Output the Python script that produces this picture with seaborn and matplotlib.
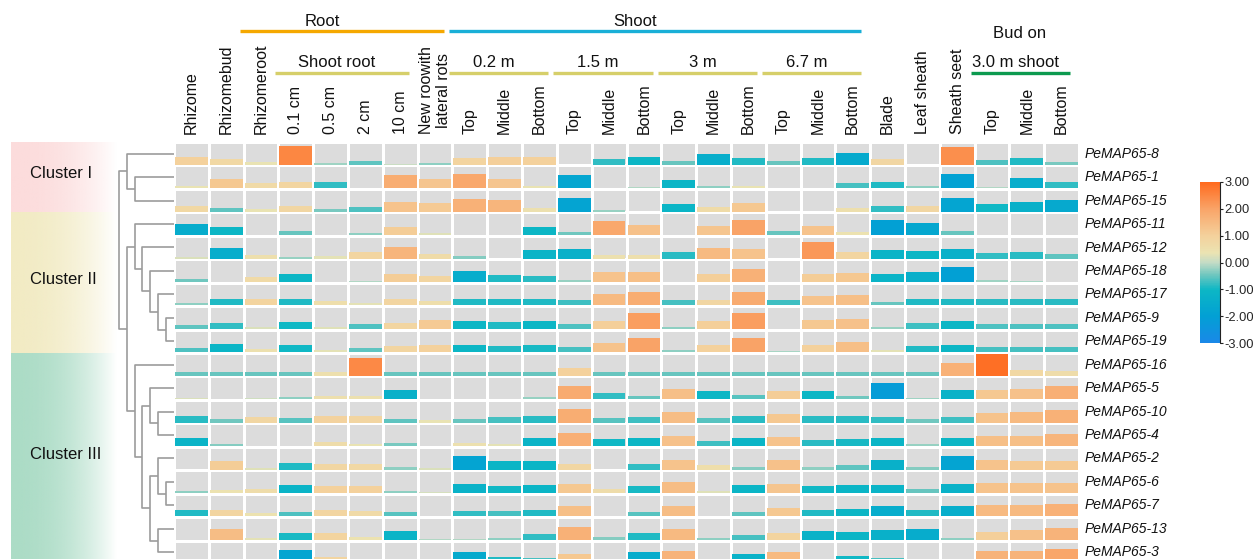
import numpy as np
import matplotlib
matplotlib.use("Agg")
import matplotlib.pyplot as plt
import seaborn as sns
from matplotlib.colors import LinearSegmentedColormap, ListedColormap, Normalize, to_rgb
from matplotlib.cm import ScalarMappable
from matplotlib.transforms import blended_transform_factory

# ---------------------------------------------------------------- data
tissues = ["Rhizome", "Rhizomebud", "Rhizomeroot", "0.1 cm", "0.5 cm", "2 cm",
           "10 cm", "New roowith\nlateral rots",
           "Top", "Middle", "Bottom", "Top", "Middle", "Bottom",
           "Top", "Middle", "Bottom", "Top", "Middle", "Bottom",
           "Blade", "Leaf sheath", "Sheath seet", "Top", "Middle", "Bottom"]

genes = ["PeMAP65-8", "PeMAP65-1", "PeMAP65-15", "PeMAP65-11", "PeMAP65-12",
         "PeMAP65-18", "PeMAP65-17", "PeMAP65-9", "PeMAP65-19", "PeMAP65-16",
         "PeMAP65-5", "PeMAP65-10", "PeMAP65-4", "PeMAP65-2", "PeMAP65-6",
         "PeMAP65-7", "PeMAP65-13", "PeMAP65-3"]

# row-scaled expression (z-score), one list per gene in the order above
zscore_rows = [
    [1.0, 0.75, 0.35, 2.5, -0.2, -0.55, 0.05, -0.3, 0.9, 1.05, 1.0, 0.0, -0.8, -1.05, -0.5, -1.4, -0.9, -0.5, -0.9, -1.55, 0.8, 0.0, 2.35, -0.65, -0.9, -0.4],
    [0.35, 1.2, 0.7, 0.85, -0.8, 0.05, 1.8, 1.25, 1.9, 1.25, 0.35, -1.75, 0.0, -0.1, -1.1, -0.3, 0.35, 0.0, 0.0, -0.7, -0.9, -0.3, -1.9, -0.1, -1.45, -0.8],
    [0.75, -0.55, 0.35, 0.8, -0.4, -0.65, 1.3, 1.15, 1.7, 1.6, 0.45, -1.85, -0.25, 0.0, -1.1, 0.65, 1.2, 0.0, 0.0, 0.5, -0.8, 0.8, -1.8, -1.0, -1.3, -1.6],
    [-1.5, -1.05, 0.0, -0.5, 0.0, -0.3, 1.1, 0.25, 0.0, 0.0, -1.05, -0.45, 1.9, 1.35, 0.0, 1.25, 2.0, -0.5, 1.3, 0.4, -2.0, -1.7, -0.5, 0.0, 0.0, 0.05],
    [0.2, -1.45, 0.5, -0.25, 0.3, 0.85, 1.6, 0.65, -0.35, 0.0, -1.15, -1.3, 0.45, 0.5, -0.85, 1.5, 1.3, 0.0, 2.2, 0.85, -1.15, -1.05, -1.3, -0.8, -0.85, -0.55],
    [-0.45, 0.0, 0.7, -1.05, 0.0, -0.1, 1.1, 0.85, -1.45, -0.9, -0.85, -0.25, 1.3, 1.4, 0.0, 1.05, 1.7, 0.05, 1.1, 1.2, -1.15, -1.35, -2.0, -0.2, -0.15, 0.0],
    [-0.3, -0.9, 0.9, -0.9, 0.55, 0.3, 0.85, 0.55, -0.9, -0.9, -0.9, -0.75, 1.5, 1.8, -0.7, 0.8, 1.85, -0.75, 1.3, 1.4, -0.5, -0.9, -0.9, -0.85, -0.85, -0.85],
    [-0.55, -0.8, 0.2, -1.0, 0.25, -0.65, 0.85, 1.15, -1.05, -0.9, -1.05, -0.65, 1.05, 2.1, -0.3, 1.05, 2.1, 0.0, 1.2, 1.35, -0.25, -0.75, -1.05, -0.65, -0.65, -0.65],
    [-0.65, -1.1, 0.45, -1.0, 0.3, -0.55, 0.85, 1.0, -1.05, -0.9, -0.95, -0.7, 1.3, 2.0, -0.3, 1.0, 2.0, -0.15, 1.0, 1.4, 0.3, -0.9, -1.05, -0.7, -0.7, -0.7],
    [-0.5, -0.5, -0.5, -0.5, 0.5, 2.45, -0.5, -0.5, -0.5, -0.5, -0.5, 1.0, -0.5, -0.5, -0.5, -0.5, -0.5, -0.5, -0.5, -0.5, -0.5, -0.5, 1.7, 2.9, 0.75, 0.6],
    [0.2, 0.0, 0.1, -0.3, 0.5, 0.45, -1.3, 0.0, 0.0, 0.0, -0.25, 1.85, -0.8, -0.5, 1.4, -1.05, -0.6, 1.1, -1.05, -0.45, -2.15, -0.2, -1.2, 1.2, 1.35, 1.75],
    [-0.85, -0.45, 0.8, -0.6, 0.95, 0.85, -0.55, 0.35, -0.5, -0.7, -0.85, 1.8, -0.6, -0.75, 1.45, -0.6, -0.85, 1.2, -0.85, -0.85, -0.8, -0.45, -0.75, 1.3, 1.5, 1.7],
    [-1.15, -0.35, 0.0, 0.0, 0.6, 0.35, -0.4, 0.0, 0.45, 0.3, -1.15, 1.75, -1.0, -1.05, 1.35, -0.75, -1.1, 1.3, -0.85, -0.95, -1.1, -0.25, -1.05, 1.4, 1.4, 1.6],
    [0.0, 1.1, 0.25, -0.9, 0.8, 0.75, -0.3, 0.2, -1.85, -1.1, -1.1, 0.8, 0.0, -0.8, 1.3, 0.55, -0.35, 1.35, -0.3, -0.55, -1.3, -0.35, -1.85, 1.3, 1.15, 1.15],
    [-0.3, 0.4, 0.6, -1.15, 1.0, 1.0, -0.3, 0.15, -1.2, -1.0, -1.1, 1.2, 0.6, -0.95, 1.45, 0.25, -1.1, 1.25, -1.0, -1.1, -1.15, -0.5, -1.2, 1.3, 1.3, 1.3],
    [-0.9, 0.85, 0.4, -0.65, 0.85, 0.7, -0.6, 0.0, -0.8, -0.7, -0.9, 1.4, 0.0, -0.6, 1.45, 0.1, -0.55, 1.2, -0.9, -1.05, -1.45, -0.9, -1.4, 1.5, 1.5, 1.7],
    [0.0, 1.45, 0.3, -0.95, 0.9, 0.4, -1.15, -0.1, -0.1, -0.3, -0.8, 1.7, -0.35, -0.9, 1.5, -0.3, -0.7, 0.9, -1.2, -1.1, -1.3, -1.5, -0.3, 1.05, 1.35, 1.65],
    [0.0, 0.0, 0.0, -1.8, 0.85, 0.2, 0.0, 0.0, -1.55, -0.9, -0.7, 1.2, -0.3, -1.5, 1.65, 0.0, -1.2, 1.5, 0.2, -1.0, -0.7, -0.5, 0.0, 1.65, 1.65, 1.95],
]

# gene tree: (merge level, left, right); leaves are gene names
cluster_I = (6, "PeMAP65-8", (5, "PeMAP65-1", "PeMAP65-15"))
cluster_II = (5, "PeMAP65-11",
              (4, "PeMAP65-12",
               (3, "PeMAP65-18",
                (2, "PeMAP65-17", (1, "PeMAP65-9", "PeMAP65-19")))))
cluster_III = (5, "PeMAP65-16",
               (4, (3, "PeMAP65-5", (2, "PeMAP65-10", "PeMAP65-4")),
                   (3, (2, "PeMAP65-2", (1, "PeMAP65-6", "PeMAP65-7")),
                       (2, "PeMAP65-13", "PeMAP65-3"))))
gene_tree = (7, cluster_I, (6, cluster_II, cluster_III))

cluster_names = ["Cluster I", "Cluster II", "Cluster III"]
cluster_sizes = [3, 6, 9]
cluster_colors = ["#fcdcdc", "#f2ebc4", "#acdcc6"]

# column groupings: (label, first column, last column, line colour)
upper_groups = [("Root", 2, 7, "#f5a800"), ("Shoot", 8, 19, "#19afd7")]
lower_groups = [("Shoot root", 3, 6, "#d6cf6a"), ("0.2 m", 8, 10, "#d6cf6a"),
                ("1.5 m", 11, 13, "#d6cf6a"), ("3 m", 14, 16, "#d6cf6a"),
                ("6.7 m", 17, 19, "#d6cf6a"), ("3.0 m shoot", 23, 25, "#0c9a4f")]
bud_title = ("Bud on", 23, 25)

cbar_ticks = [3, 2, 1, 0, -1, -2, -3]

# ---------------------------------------------------------------- style
sns.set_theme(style="white")
plt.rcParams["font.family"] = ["Liberation Sans", "DejaVu Sans"]

W, H = 1253, 559
fig = plt.figure(figsize=(W / 100, H / 100), dpi=100)


def fx(px):
    return px / W


def fy(py):
    return 1 - py / H


cmap = LinearSegmentedColormap.from_list(
    "expr",
    [(0.0, "#1a88e8"), (1 / 6, "#02a0d4"), (0.33, "#0cb7c5"), (0.42, "#6cc6bf"),
     (0.5, "#c4dcc6"), (0.56, "#ebe3b2"), (0.667, "#f4d19c"), (0.833, "#f9a468"),
     (1.0, "#ff6a1e")])
norm = Normalize(-3, 3)

Z = np.array(zscore_rows)
n_rows, n_cols = Z.shape

grid_top, grid_bottom = 142, 564
grid_left, grid_right = 174, 1079
ax = fig.add_axes([fx(grid_left), fy(grid_bottom), fx(grid_right - grid_left),
                   (grid_bottom - grid_top) / H])

# grey cell background with white grid
sns.heatmap(np.zeros_like(Z), cmap=ListedColormap(["#dcdcdc"]), vmin=0, vmax=1,
            cbar=False, linewidths=1.0, linecolor="white",
            xticklabels=False, yticklabels=False, ax=ax)

# one bar per cell, height proportional to |z|, coloured by z
cell_w_px = (grid_right - grid_left) / n_cols
cell_h_px = (grid_bottom - grid_top) / n_rows
gap_x = 1.0 / cell_w_px
gap_y = 0.7 / cell_h_px
for i in range(n_rows):
    for j in range(n_cols):
        v = Z[i, j]
        h = abs(v) / 3 * (1 - 2 * gap_y)
        if h <= 0:
            continue
        ax.bar(j + 0.5, -h, bottom=i + 1 - gap_y, width=1 - 2 * gap_x,
               color=cmap(norm(v)), linewidth=0, zorder=3)
ax.set_xlim(0, n_cols)
ax.set_ylim(n_rows, 0)

xfig = blended_transform_factory(ax.transData, fig.transFigure)

# tissue labels
for j, lab in enumerate(tissues):
    ax.text(j + 0.5, fy(134), lab, transform=xfig, rotation=90, ha="center",
            va="bottom", fontsize=11.5, multialignment="center", color="#111111")

# gene labels
for i, g in enumerate(genes):
    ax.text(n_cols + 6 / cell_w_px, i + 0.5, g, style="italic", ha="left",
            va="center", fontsize=10, color="#111111", clip_on=False)

# group brackets
for lab, a, b, col in upper_groups:
    ax.plot([a - 0.1, b + 1 - 0.25], [fy(31), fy(31)], transform=xfig,
            color=col, lw=2.4, clip_on=False, solid_capstyle="butt")
    ax.text((a + b + 1) / 2 - 0.75, fy(21), lab, transform=xfig, ha="center",
            va="center", fontsize=12, color="#111111")
for lab, a, b, col in lower_groups:
    ax.plot([a - 0.1, b + 1 - 0.25], [fy(72.5), fy(72.5)], transform=xfig,
            color=col, lw=2.4, clip_on=False, solid_capstyle="butt")
    ax.text((a + b + 1) / 2 - 0.32, fy(62), lab, transform=xfig, ha="center",
            va="center", fontsize=12, color="#111111")
ax.text((bud_title[1] + bud_title[2] + 1) / 2 - 0.2, fy(33), bud_title[0],
        transform=xfig, ha="center", va="center", fontsize=12, color="#111111")

# dendrogram
dax = fig.add_axes([fx(119), fy(grid_bottom), fx(grid_left - 0.5 - 119),
                    (grid_bottom - grid_top) / H])
dax.set_xlim(7, 0)
dax.set_ylim(n_rows, 0)
dax.axis("off")
leaf_pos = {g: i + 0.5 for i, g in enumerate(genes)}


def draw_tree(node):
    if isinstance(node, str):
        return leaf_pos[node], 0
    level, left, right = node
    ya, ha = draw_tree(left)
    yb, hb = draw_tree(right)
    dax.plot([ha, level, level, hb], [ya, ya, yb, yb], color="#9c9c9c",
             lw=1.2, clip_on=False, solid_capstyle="butt")
    return (ya + yb) / 2, level


draw_tree(gene_tree)

# cluster bands with a fade to white
bax = fig.add_axes([fx(11), fy(grid_bottom), fx(106), (grid_bottom - grid_top) / H])
bax.set_xlim(0, 1)
bax.set_ylim(n_rows, 0)
bax.axis("off")
t = np.linspace(0, 1, 200)
alpha = np.clip(1 - t ** 2.2, 0, 1)
start = 0
for name, size, col in zip(cluster_names, cluster_sizes, cluster_colors):
    rgba = np.zeros((1, t.size, 4))
    rgba[..., :3] = to_rgb(col)
    rgba[..., 3] = alpha
    bax.imshow(rgba, extent=(0, 1, start + size, start), aspect="auto",
               interpolation="bilinear")
    bax.text(0.18, start + size / 2 - 0.15, name, ha="left", va="center",
             fontsize=12, color="#111111")
    start += size
bax.set_xlim(0, 1)
bax.set_ylim(n_rows, 0)

# colour bar
cax = fig.add_axes([fx(1200), fy(343), fx(20), 161 / H])
cb = fig.colorbar(ScalarMappable(norm=norm, cmap=cmap), cax=cax, ticks=cbar_ticks)
cb.outline.set_visible(False)
cb.ax.set_yticklabels([f"{v:.2f}" for v in cbar_ticks])
cb.ax.tick_params(axis="y", length=2.5, width=0.8, color="#222222", pad=0.5,
                  labelsize=9.3, direction="out")
cax.plot([1, 1], [0, 1], transform=cax.transAxes, color="#222222", lw=0.8,
         clip_on=False)

fig.savefig("out.png", dpi=100, facecolor="white")
